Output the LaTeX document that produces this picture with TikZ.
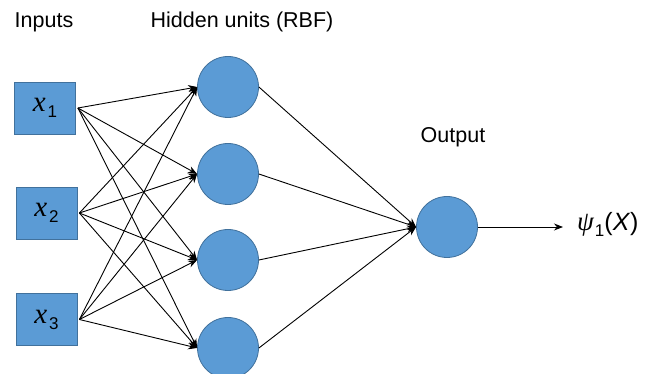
\documentclass[tikz,border=0pt]{standalone}
\usepackage{fontspec}
\setmainfont{Liberation Sans}
\newfontfamily\serifit{Liberation Serif}[UprightFont=* Italic, BoldFont=* Bold Italic]
\usetikzlibrary{arrows.meta}
\definecolor{unitfill}{HTML}{5B9BD5}
\definecolor{unitline}{HTML}{41719C}
\tikzset{
  inbox/.style={draw=unitline, fill=unitfill, line width=0.8pt, minimum width=61pt, minimum height=52pt, inner sep=0pt},
  unit/.style={draw=unitline, fill=unitfill, line width=0.8pt, circle, minimum size=61pt, inner sep=0pt},
  link/.style={line width=0.9pt, -{Stealth[length=9pt,width=7pt]}},
  caption/.style={font=\fontsize{21.5}{24}\selectfont},
}
\newcommand{\invar}[1]{{\fontsize{29}{30}\selectfont\serifit x}\kern2pt\raisebox{-6pt}{\fontsize{17}{20}\selectfont #1}}
\begin{document}
\begin{tikzpicture}[x=1pt, y=-1pt]
  \useasboundingbox (0,0) rectangle (649,374);
  \clip (0,0) rectangle (649,374);
  \fill[white] (0,0) rectangle (649,374);

  % column titles
  \node[caption] (tin) at (44,22) {Inputs};
  \node[caption] (thid) at (242,22) {Hidden units (RBF)};
  \node[caption] (tout) at (453,137) {Output};

  % input layer
  \node[inbox] (x1) at (45,108) {\invar{1}};
  \node[inbox] (x2) at (46.5,213) {\invar{2}};
  \node[inbox] (x3) at (46.5,319.5) {\invar{3}};

  % hidden RBF layer
  \node[unit] (h1) at (228,87) {};
  \node[unit] (h2) at (228,174) {};
  \node[unit] (h3) at (228,260) {};
  \node[unit] (h4) at (228,348) {};

  % output unit and result
  \node[unit] (o) at (447,227) {};
  \coordinate (res) at (563,227);
  \node[anchor=west, inner sep=0pt] (psi) at (577,224)
    {{\fontsize{27}{28}\selectfont\serifit\char"03C8}\kern1pt\raisebox{-6pt}{\fontsize{17}{20}\selectfont 1}{\fontsize{25}{26}\selectfont(\textit{X})}};

  % connections
  \foreach \i in {1,2,3}{
    \foreach \j in {1,2,3,4}{
      \draw[link] ([xshift=2pt]x\i.east) -- (h\j.west);
    }
  }
  \foreach \j in {1,2,3,4}{
    \draw[link] (h\j.east) -- (o.west);
  }
  \draw[link] (o.east) -- (res);
\end{tikzpicture}
\end{document}
